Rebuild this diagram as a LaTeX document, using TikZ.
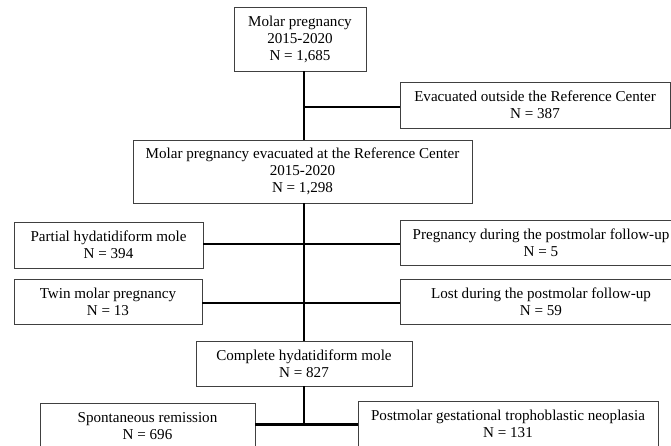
\documentclass[tikz,border=0pt]{standalone}
\usepackage{fontspec}
\setmainfont{Liberation Serif}
\begin{document}
\begin{tikzpicture}[x=1pt,y=-1pt,
        box/.style={draw=black!75,line width=0.9pt,align=center,inner sep=0pt,font=\fontsize{15.1}{17}\selectfont},
        link/.style={line width=2.6pt}]
            \clip(0,0)rectangle(671,446);
            \fill[white](0,0)rectangle(671,446);
            \node[box,minimum width=132,minimum height=64](mp)at(300,39){Molar pregnancy\\2015-2020\\N = 1,685};
            \node[box,minimum width=270,minimum height=46](outside)at(535,105){Evacuated outside the Reference Center\\N = 387};
            \node[box,minimum width=339,minimum height=63](rc)at(302.5,171.5){Molar pregnancy evacuated at the Reference Center\\2015-2020\\N = 1,298};
            \node[box,minimum width=189,minimum height=46](phm)at(108.5,245){Partial hydatidiform mole\\N = 394};
            \node[box,minimum width=282,minimum height=45](preg)at(541,242.5){Pregnancy during the postmolar follow-up\\N = 5};
            \node[box,minimum width=188,minimum height=45](twin)at(108,301.5){Twin molar pregnancy\\N = 13};
            \node[box,minimum width=282,minimum height=45](lost)at(541,301.5){Lost during the postmolar follow-up\\N = 59};
            \node[box,minimum width=216,minimum height=45](chm)at(304,363.5){Complete hydatidiform mole\\N = 827};
            \node[box,minimum width=215,minimum height=46](rem)at(147.5,426){Spontaneous remission\\N = 696};
            \node[box,minimum width=300,minimum height=46](gtn)at(508,424){Postmolar gestational trophoblastic neoplasia\\N = 131};
            \coordinate(j1)at(304,107);
            \coordinate(j2)at(304,244);
            \coordinate(j3)at(304,303);
            \coordinate(j4)at(304,424.5);
            \draw[link](mp.south-|j1)--(rc.north-|j1);
            \draw[link](j1)--(outside.west|-j1);
            \draw[link](rc.south-|j2)--(chm.north-|j2);
            \draw[link](phm.east|-j2)--(preg.west|-j2);
            \draw[link](twin.east|-j3)--(lost.west|-j3);
            \draw[link](chm.south-|j4)--(j4);
            \draw[link](rem.east|-j4)--(gtn.west|-j4);
        \end{tikzpicture}
\end{document}
